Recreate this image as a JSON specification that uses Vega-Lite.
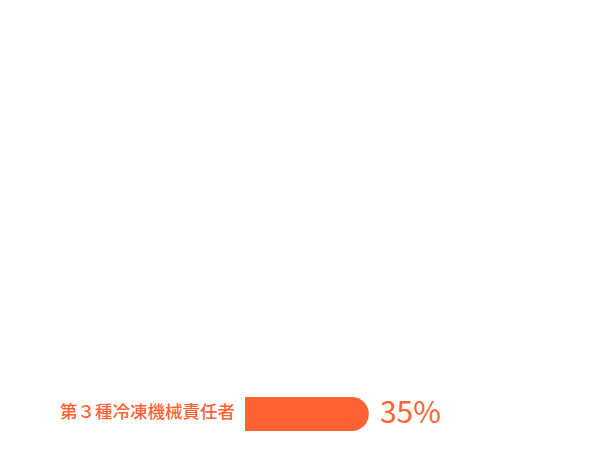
{
  "$schema": "https://vega.github.io/schema/vega-lite/v6.json",
  "description": "Share of a single qualification shown as one rounded bar.",
  "width": 616,
  "height": 460,
  "autosize": "none",
  "padding": 0,
  "background": "white",
  "data": {
    "values": [
      {"qualification": "第３種冷凍機械責任者", "share": 0.35}
    ]
  },
  "encoding": {
    "y": {
      "field": "qualification",
      "type": "nominal",
      "axis": null,
      "scale": {"range": [397, 431], "paddingInner": 0, "paddingOuter": 0}
    }
  },
  "layer": [
    {
      "mark": {"type": "bar", "color": "#ff6333", "cornerRadiusEnd": 17},
      "encoding": {
        "x": {
          "field": "share",
          "type": "quantitative",
          "axis": null,
          "scale": {"domain": [0, 1], "range": [245, 599]}
        }
      }
    },
    {
      "mark": {
        "type": "text",
        "align": "right",
        "baseline": "middle",
        "dx": -10,
        "dy": -1,
        "font": "Noto Sans CJK JP",
        "fontSize": 17.5,
        "fontWeight": 500,
        "color": "#ff6333"
      },
      "encoding": {
        "x": {"datum": 0, "type": "quantitative"},
        "text": {"field": "qualification"}
      }
    },
    {
      "mark": {
        "type": "text",
        "align": "left",
        "baseline": "middle",
        "dx": 11,
        "font": "Noto Sans CJK JP",
        "fontSize": 30,
        "color": "#ff6333"
      },
      "encoding": {
        "x": {"field": "share", "type": "quantitative"},
        "text": {"field": "share", "format": ".0%"}
      }
    }
  ],
  "config": {
    "view": {"stroke": null}
  }
}
